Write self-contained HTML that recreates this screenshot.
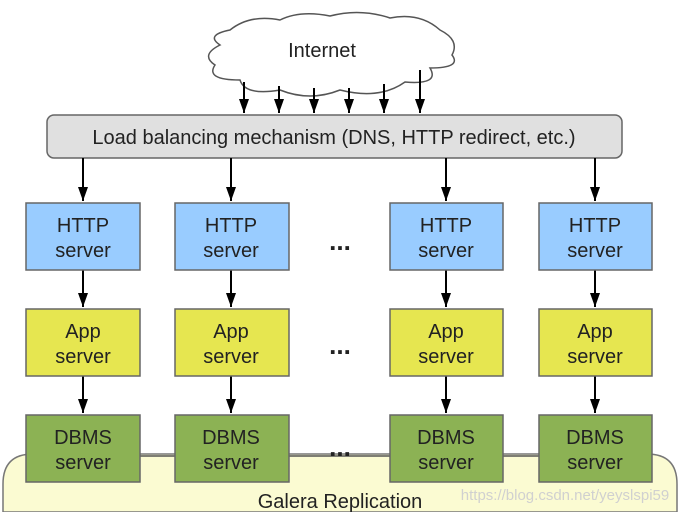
<!DOCTYPE html>
<html><head><style>
html,body{margin:0;padding:0;background:#fff;width:680px;height:512px;overflow:hidden}
svg{display:block}
svg text{font-family:"Liberation Sans",sans-serif;fill:#222}
</style></head><body>
<svg width="680" height="512" viewBox="0 0 680 512" xmlns="http://www.w3.org/2000/svg">
<defs>
<marker id="b" viewBox="0 0 10 14" markerWidth="10" markerHeight="14" refX="5" refY="14" orient="0" markerUnits="userSpaceOnUse"><path d="M0,0 L10,0 L5,14 Z" fill="#000"/></marker></defs>
<path d="M3,512 L3,484 Q3,454 33,454 L647,454 Q677,454 677,484 L677,512 Z" fill="#fbfbd2" stroke="#777" stroke-width="1.5"/>
<text x="340" y="508" font-size="20" text-anchor="middle">Galera Replication</text>
<line x1="140" y1="456" x2="539" y2="456" stroke="#555" stroke-width="1.5"/>
<path d="M230,30 Q250,14 280,20 Q300,10 330,16 Q360,8 390,18 Q420,12 440,30 Q460,40 452,55 Q462,68 430,68 Q440,85 405,82 Q380,100 340,90 Q310,102 280,90 Q245,96 240,80 Q205,80 215,65 Q200,55 220,45 Q205,35 230,30 Z" fill="#fff" stroke="#555" stroke-width="1.5"/>
<text x="322" y="57" font-size="20" text-anchor="middle">Internet</text>
<g stroke="#000" stroke-width="2">
<line x1="244" y1="82" x2="244" y2="113" marker-end="url(#b)"/>
<line x1="279" y1="86" x2="279" y2="113" marker-end="url(#b)"/>
<line x1="314" y1="88" x2="314" y2="113" marker-end="url(#b)"/>
<line x1="349" y1="88" x2="349" y2="113" marker-end="url(#b)"/>
<line x1="384" y1="84" x2="384" y2="113" marker-end="url(#b)"/>
<line x1="420" y1="70" x2="420" y2="113" marker-end="url(#b)"/>
</g>
<rect x="47" y="115" width="575" height="43" rx="7" fill="#e0e0e0" stroke="#666" stroke-width="1.5"/>
<text x="334" y="144" font-size="20" text-anchor="middle">Load balancing mechanism (DNS, HTTP redirect, etc.)</text>
<g stroke="#000" stroke-width="2">
<line x1="83" y1="158" x2="83" y2="201" marker-end="url(#b)"/>
<line x1="231" y1="158" x2="231" y2="201" marker-end="url(#b)"/>
<line x1="446" y1="158" x2="446" y2="201" marker-end="url(#b)"/>
<line x1="595" y1="158" x2="595" y2="201" marker-end="url(#b)"/>
<line x1="83" y1="270" x2="83" y2="307" marker-end="url(#b)"/>
<line x1="231" y1="270" x2="231" y2="307" marker-end="url(#b)"/>
<line x1="446" y1="270" x2="446" y2="307" marker-end="url(#b)"/>
<line x1="595" y1="270" x2="595" y2="307" marker-end="url(#b)"/>
<line x1="83" y1="376" x2="83" y2="413" marker-end="url(#b)"/>
<line x1="231" y1="376" x2="231" y2="413" marker-end="url(#b)"/>
<line x1="446" y1="376" x2="446" y2="413" marker-end="url(#b)"/>
<line x1="595" y1="376" x2="595" y2="413" marker-end="url(#b)"/>
</g>
<g stroke="#666" stroke-width="1.5">
<rect x="26" y="203" width="114" height="67" fill="#99ccff"/>
<rect x="175" y="203" width="114" height="67" fill="#99ccff"/>
<rect x="390" y="203" width="113" height="67" fill="#99ccff"/>
<rect x="539" y="203" width="113" height="67" fill="#99ccff"/>
<rect x="26" y="309" width="114" height="67" fill="#e6e650"/>
<rect x="175" y="309" width="114" height="67" fill="#e6e650"/>
<rect x="390" y="309" width="113" height="67" fill="#e6e650"/>
<rect x="539" y="309" width="113" height="67" fill="#e6e650"/>
<rect x="26" y="415" width="114" height="67" fill="#8cb254"/>
<rect x="175" y="415" width="114" height="67" fill="#8cb254"/>
<rect x="390" y="415" width="113" height="67" fill="#8cb254"/>
<rect x="539" y="415" width="113" height="67" fill="#8cb254"/>
</g>
<g font-size="20" text-anchor="middle">
<text x="83" y="232">HTTP</text><text x="83" y="257">server</text>
<text x="231" y="232">HTTP</text><text x="231" y="257">server</text>
<text x="446" y="232">HTTP</text><text x="446" y="257">server</text>
<text x="595" y="232">HTTP</text><text x="595" y="257">server</text>
<text x="83" y="338">App</text><text x="83" y="363">server</text>
<text x="231" y="338">App</text><text x="231" y="363">server</text>
<text x="446" y="338">App</text><text x="446" y="363">server</text>
<text x="595" y="338">App</text><text x="595" y="363">server</text>
<text x="83" y="444">DBMS</text><text x="83" y="469">server</text>
<text x="231" y="444">DBMS</text><text x="231" y="469">server</text>
<text x="446" y="444">DBMS</text><text x="446" y="469">server</text>
<text x="595" y="444">DBMS</text><text x="595" y="469">server</text>
</g>
<g font-size="26" font-weight="bold" text-anchor="middle">
<text x="340" y="250">...</text>
<text x="340" y="354">...</text>
<text x="340" y="456">...</text>
</g>
<text x="565" y="500" font-size="15" text-anchor="middle" style="fill:#d0d0d0">https://blog.csdn.net/yeyslspi59</text>
</svg>
</body></html>
